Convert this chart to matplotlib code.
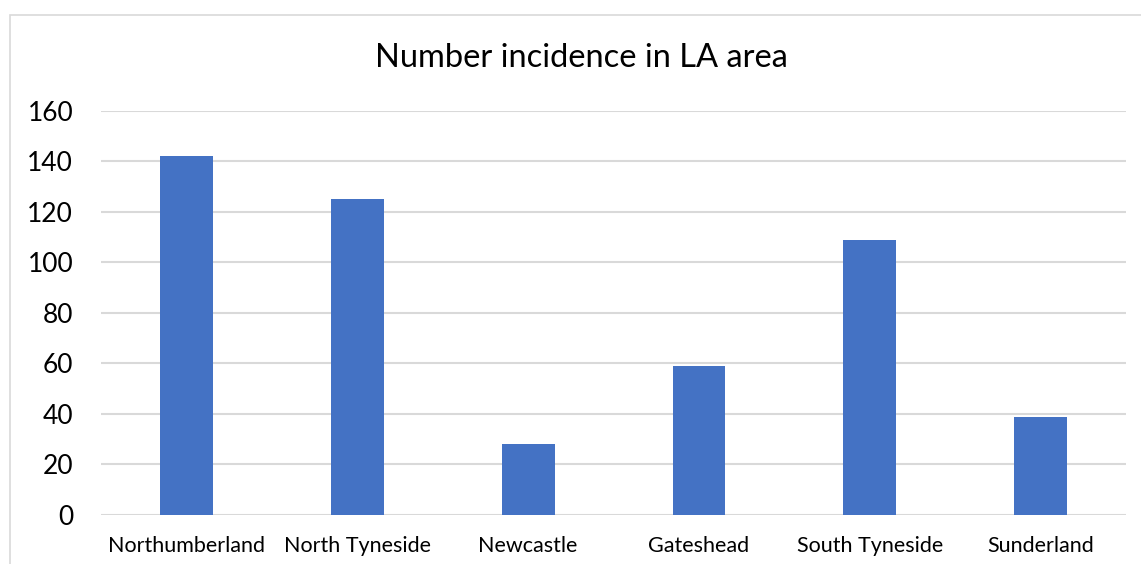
import matplotlib
matplotlib.use('Agg')
import matplotlib.pyplot as plt
from matplotlib.patches import Rectangle

areas = ['Northumberland', 'North Tyneside', 'Newcastle', 'Gateshead', 'South Tyneside', 'Sunderland']
counts = [142, 125, 28, 59, 109, 39]
yticks = [0, 20, 40, 60, 80, 100, 120, 140, 160]

plt.rcParams['font.family'] = ['Lato', 'DejaVu Sans']

fig = plt.figure(figsize=(11.41, 5.64), dpi=100)
ax = fig.add_axes([0.0885, 0.0869, 0.8985, 0.7163])

# chart area border
fig.patches.append(Rectangle((10 / 1141, -0.1), 1.2, 1 - 15 / 564 + 0.1, transform=fig.transFigure,
                             fill=False, edgecolor='#D9D9D9', linewidth=1.2))

ax.bar(range(len(areas)), counts, width=0.31, color='#4472C4', zorder=3)
ax.set_xlim(-0.5, len(areas) - 0.5)
ax.set_ylim(0, 160)
ax.set_yticks(yticks)
ax.set_xticks(range(len(areas)))
ax.set_xticklabels(areas, fontsize=15.5)
ax.tick_params(axis='y', labelsize=19, length=0, pad=20)
ax.tick_params(axis='x', length=0, pad=15)
ax.grid(axis='y', color='#D9D9D9', linewidth=1.5, zorder=0)
for s in ax.spines.values():
    s.set_visible(False)

fig.text(0.51, 1 - 58 / 564, 'Number incidence in LA area', ha='center', va='center', fontsize=23.5)

plt.savefig('out.png', dpi=100)
